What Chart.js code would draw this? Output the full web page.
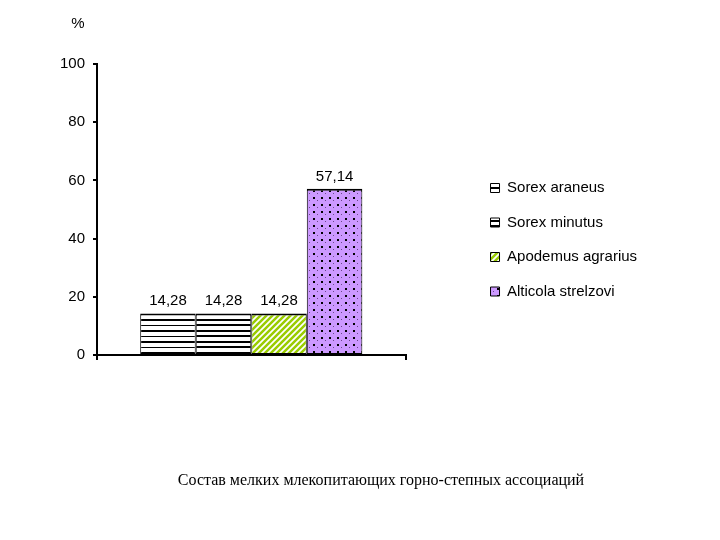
<!DOCTYPE html>
<html>
<head>
<meta charset="utf-8">
<script src="https://cdn.jsdelivr.net/npm/chart.js@4/dist/chart.umd.min.js"></script>
<style>
  html, body { margin: 0; background: #fff; }
  canvas { display: block; }
</style>
</head>
<body>
<canvas id="chart" width="720" height="540"></canvas>
<script>
// one unnamed category, one dataset per species
const categories = ['']
const species = ['Sorex araneus', 'Sorex minutus', 'Apodemus agrarius', 'Alticola strelzovi']
const shares = [14.28, 14.28, 14.28, 57.14]
const yTicks = [0, 20, 40, 60, 80, 100]
const unit = '%'
const caption = 'Состав мелких млекопитающих горно-степных ассоциаций'

const SANS = '"Liberation Sans", Arial, sans-serif'
const SERIF = '"Liberation Serif", "Times New Roman", serif'

Chart.defaults.font.family = SANS
Chart.defaults.font.size = 15
Chart.defaults.color = '#000'

// small repeating tiles for the old-style hatched fills
function tile(w, h, paint) {
  const c = document.createElement('canvas')
  c.width = w; c.height = h
  const g = c.getContext('2d')
  paint(g, w, h)
  return g.createPattern(c, 'repeat')
}

const fills = [
  tile(10, 11, (g, w) => {
    g.fillStyle = '#fff'; g.fillRect(0, 0, w, 11)
    g.fillStyle = '#000'; g.fillRect(0, 0, w, 2); g.fillRect(0, 6, w, 1)
  }),
  tile(10, 11, (g, w) => {
    g.fillStyle = '#fff'; g.fillRect(0, 0, w, 11)
    g.fillStyle = '#000'; g.fillRect(0, 0, w, 2); g.fillRect(0, 5, w, 2)
  }),
  tile(6, 6, g => {
    g.fillStyle = '#fff'; g.fillRect(0, 0, 6, 6)
    g.strokeStyle = '#99cc00'; g.lineWidth = 2.5
    g.beginPath()
    g.moveTo(-1, 7); g.lineTo(7, -1)
    g.moveTo(-4, 4); g.lineTo(4, -4)
    g.moveTo(2, 10); g.lineTo(10, 2)
    g.stroke()
  }),
  tile(8, 7, g => {
    g.fillStyle = '#cc99ff'; g.fillRect(0, 0, 8, 7)
    g.fillStyle = '#000'; g.fillRect(1, 1, 2, 2)
    g.fillStyle = '#6a4a8a'; g.fillRect(5, 4, 1, 1)
  }),
]

// value labels above bars and the unit mark over the value axis
const annotations = {
  id: 'annotations',
  afterDatasetsDraw(chart) {
    const { ctx, chartArea } = chart
    ctx.save()
    ctx.font = `15px ${SANS}`
    ctx.fillStyle = '#000'
    ctx.textAlign = 'center'
    chart.data.datasets.forEach((ds, i) => {
      chart.getDatasetMeta(i).data.forEach((bar, j) => {
        ctx.textBaseline = 'alphabetic'
        ctx.fillText(ds.data[j].toFixed(2).replace('.', ','), bar.x, bar.y - 8)
      })
    })
    ctx.textBaseline = 'middle'
    ctx.fillText(unit, chart.scales.y.right - 19, chartArea.top - 40)
    ctx.restore()
  },
}

// move legend and caption where the original sheet had them
const placeBoxes = {
  id: 'placeBoxes',
  afterLayout(chart) {
    const a = chart.chartArea
    const lg = chart.legend
    const pad = lg.options.labels.padding
    lg.left = a.right + 85 - pad; lg.right = lg.left + lg.width
    lg.top = a.top + 116.5 - pad; lg.bottom = lg.top + lg.height
    const t = chart.titleBlock
    const dx = 381 - (t.left + t.right) / 2
    t.left += dx; t.right += dx
  },
}

new Chart(document.getElementById('chart'), {
  type: 'bar',
  data: {
    labels: categories,
    datasets: species.map((name, i) => ({
      label: name,
      data: [shares[i]],
      backgroundColor: fills[i],
      borderColor: '#000',
      borderWidth: { top: 2, left: 1, right: 1, bottom: 1 },
      borderSkipped: false,
      categoryPercentage: 0.72,
      barPercentage: 1,
    })),
  },
  options: {
    responsive: false,
    animation: false,
    devicePixelRatio: 1,
    layout: { padding: { left: 0, top: 64, right: 138.4, bottom: 50 } },
    scales: {
      x: {
        offset: true,
        grid: { display: true, drawOnChartArea: false, offset: true, tickLength: 5, color: '#000', lineWidth: 2 },
        border: { color: '#000', width: 2 },
        ticks: { display: false },
        afterFit: s => { s.height = 115.8 },
      },
      y: {
        min: 0, max: 100,
        afterBuildTicks: s => { s.ticks = yTicks.map(v => ({ value: v })) },
        grid: { drawOnChartArea: false, tickLength: 4, color: '#000', lineWidth: 2 },
        border: { color: '#000', width: 2 },
        ticks: { padding: 8, color: '#000', font: { size: 15 } },
        afterFit: s => { s.width = 97 },
      },
    },
    plugins: {
      legend: {
        position: 'right',
        align: 'start',
        maxWidth: 220,
        labels: {
          boxWidth: 9, boxHeight: 9, padding: 19.5, color: '#000',
          font: { size: 15 },
          generateLabels: chart => Chart.defaults.plugins.legend.labels.generateLabels(chart)
            .map(item => ({ ...item, lineWidth: 1 })),
        },
      },
      title: {
        display: true,
        position: 'bottom',
        text: caption,
        color: '#000',
        padding: 0,
        font: { family: SERIF, size: 16, weight: 'normal' },
      },
      tooltip: { enabled: false },
    },
  },
  plugins: [annotations, placeBoxes],
})
</script>
</body>
</html>
